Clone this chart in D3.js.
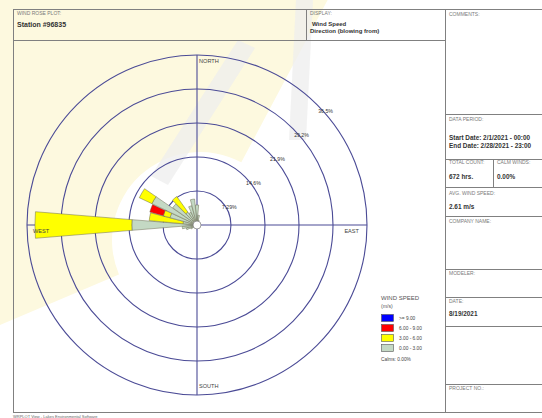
<!DOCTYPE html>
<html><head><meta charset="utf-8">
<script src="https://cdn.jsdelivr.net/npm/d3@7"></script>
<style>
html,body{margin:0;padding:0;background:#fff;}
svg{display:block;font-family:"Liberation Sans",Arial,sans-serif;}
</style></head>
<body>
<svg id="c" width="542" height="418"></svg>
<script>
// ---- data ----
const directions = [0,10,20,30,40,50,60,70,80,90,100,110,120,130,140,150,160,170,180,190,200,210,220,230,240,250,260,270,280,290,300,310,320,330,340,350];
const speed0to3 = [4.3,2.1,1.1,0,0,0,0,0,0,0,0,0,0,0,0,0,0,0,0,0,0,0,0,0.9,1.5,2.4,3.2,14.0,3.0,6.0,10.7,6.4,3.4,3.0,4.3,5.6];
const speed3to6 = [0,0,0,0,0,0,0,0,0,0,0,0,0,0,0,0,0,0,0,0,0,0,0,0,0,0,0,20.8,7.3,1.5,3.0,0,4.1,0,0,0];
const speed6to9 = [0,0,0,0,0,0,0,0,0,0,0,0,0,0,0,0,0,0,0,0,0,0,0,0,0,0,0,0,0,3.0,0,0,0,0,0,0];
const speed9up  = [0,0,0,0,0,0,0,0,0,0,0,0,0,0,0,0,0,0,0,0,0,0,0,0,0,0,0,0,0,0,0,0,0,0,0,0];
const ringValues = [7.29,14.6,21.9,29.2,36.5];
const ringLabels = ["7.29%","14.6%","21.9%","29.2%","36.5%"];
const legendLabels = [">= 9.00","6.00 - 9.00","3.00 - 6.00","0.00 - 3.00"];
const legendColors = ["#0000ff","#ff0000","#ffff00","#c4d9c4"];
const compass = [{t:"NORTH"},{t:"EAST"},{t:"SOUTH"},{t:"WEST"}];

const svg = d3.select("#c");
const cx = 197, cy = 225, R = 170;
const lineCol = "#4b4b96";
const frameCol = "#808080";

// ---- faint watermark background ----
const wm = svg.append("g");
wm.append("path")
  .attr("transform", `translate(200,240)`)
  .attr("d", d3.arc()({innerRadius: 88, outerRadius: 320, startAngle: -113*Math.PI/180, endAngle: 28*Math.PI/180}))
  .attr("fill", "#fdf9df");
wm.append("path").attr("d","M238,40 L255,48 L168,185 L151,176 Z").attr("fill","#eeeeee").attr("opacity",0.75);
wm.append("path").attr("d","M296,0 L313,0 L306,140 L289,140 Z").attr("fill","#eeeeee").attr("opacity",0.75);

// ---- frame ----
const fr = svg.append("g").attr("stroke", frameCol).attr("stroke-width", 1).attr("fill","none");
const hl = (x1,y1,x2,y2)=>fr.append("line").attr("x1",x1).attr("y1",y1).attr("x2",x2).attr("y2",y2);
hl(13,9.5,542,9.5);
hl(13.5,9,13.5,412);
hl(13,412.5,542,412.5);
hl(445.5,9,445.5,412);
hl(13,40.5,445,40.5);
hl(306.5,9,306.5,40);
[114,159,187,216,269,297,326,384].forEach(y=>hl(445,y+0.5,542,y+0.5));
hl(493.5,159,493.5,187);

// ---- text helpers ----
function small(x,y,t){svg.append("text").attr("x",x).attr("y",y).attr("font-size",5).attr("fill","#7a7a7a").text(t);}
function big(x,y,t,fs){svg.append("text").attr("x",x).attr("y",y).attr("font-size",fs||6.4).attr("font-weight","bold").attr("fill","#333").text(t);}

small(17,15,"WIND ROSE PLOT:");
big(17,27,"Station #96835",7);
small(310,15,"DISPLAY:");
big(312,25.5,"Wind Speed",6);
big(310,33,"Direction (blowing from)",6);
small(449,16,"COMMENTS:");
small(449,121,"DATA PERIOD:");
big(449,140,"Start Date: 2/1/2021 - 00:00");
big(449,148,"End Date: 2/28/2021 - 23:00");
small(449,164,"TOTAL COUNT:");
small(497,164,"CALM WINDS:");
big(449,179,"672 hrs.");
big(497,179,"0.00%");
small(449,195,"AVG. WIND SPEED:");
big(449,209,"2.61 m/s");
small(449,223,"COMPANY NAME:");
small(449,275,"MODELER:");
small(449,303,"DATE:");
big(449,316,"8/19/2021");
small(449,390,"PROJECT NO.:");
svg.append("text").attr("x",13).attr("y",417.5).attr("font-size",4).attr("fill","#666").text("WRPLOT View - Lakes Environmental Software");

// ---- scales ----
const r = d3.scaleLinear().domain([0, ringValues[ringValues.length-1]]).range([0, R]);
const rose = svg.append("g").attr("transform", `translate(${cx},${cy})`);

// rings
rose.selectAll("circle.ring").data(ringValues).join("circle")
  .attr("class","ring").attr("r", d=>r(d))
  .attr("fill","none").attr("stroke", lineCol).attr("stroke-width",1.1);
// axes
rose.append("line").attr("x1",0).attr("x2",0).attr("y1",-R).attr("y2",R).attr("stroke",lineCol).attr("stroke-width",1.1);
rose.append("line").attr("y1",0).attr("y2",0).attr("x1",-R).attr("x2",R).attr("stroke",lineCol).attr("stroke-width",1.1);

// petals
const series = [speed0to3, speed3to6, speed6to9, speed9up];
const seriesColors = ["#c4d9c4","#ffff00","#ff0000","#0000ff"];
const halfW = 4.7*Math.PI/180;
const arc = d3.arc();
const petals = [];
directions.forEach((dir,i)=>{
  let base = 0;
  series.forEach((s,k)=>{
    const v = s[i];
    if (v>0){
      petals.push({dir, inner: base, outer: base+v, color: seriesColors[k]});
    }
    base += v;
  });
});
rose.selectAll("path.petal").data(petals).join("path")
  .attr("class","petal")
  .attr("d", d=>{
    const a = d.dir*Math.PI/180;
    return arc({innerRadius: r(d.inner), outerRadius: r(d.outer), startAngle: a-halfW, endAngle: a+halfW});
  })
  .attr("fill", d=>d.color)
  .attr("stroke","#6b6b50").attr("stroke-width",0.5);

// calm circle
rose.append("circle").attr("r",4).attr("fill","#fff").attr("stroke","#888").attr("stroke-width",0.8);

// compass labels
const cfs = 5.6;
rose.append("text").attr("x",2).attr("y",-R+7.5).attr("font-size",cfs).attr("fill","#444").text(compass[0].t);
rose.append("text").attr("x",R-8).attr("y",8).attr("text-anchor","end").attr("font-size",cfs).attr("fill","#444").text(compass[1].t);
rose.append("text").attr("x",2).attr("y",R-7).attr("font-size",cfs).attr("fill","#444").text(compass[2].t);
rose.append("text").attr("x",-R+6).attr("y",8).attr("font-size",cfs).attr("fill","#444").text(compass[3].t);

// ring labels at 45 degrees
rose.selectAll("text.rl").data(ringValues).join("text")
  .attr("class","rl")
  .attr("x", d=>r(d)*Math.SQRT1_2+1)
  .attr("y", d=>-r(d)*Math.SQRT1_2+8)
  .attr("font-size",5.2).attr("fill","#333")
  .text((d,i)=>ringLabels[i]);

// legend
const lg = svg.append("g").attr("transform","translate(381,0)");
lg.append("text").attr("x",0).attr("y",300).attr("font-size",6).attr("fill","#555").text("WIND SPEED");
lg.append("text").attr("x",0).attr("y",308).attr("font-size",5.2).attr("fill","#555").text("(m/s)");
const ly = d3.scalePoint().domain(legendLabels).range([314,344]);
legendLabels.forEach((l,i)=>{
  lg.append("rect").attr("x",0.5).attr("y",ly(l)+0.5).attr("width",12).attr("height",7)
    .attr("fill",legendColors[i]).attr("stroke","#555").attr("stroke-width",0.6);
  lg.append("text").attr("x",18).attr("y",ly(l)+6).attr("font-size",4.8).attr("fill","#444").text(l);
});
lg.append("text").attr("x",0).attr("y",361).attr("font-size",4.8).attr("fill","#444").text("Calms: 0.00%");
</script>
</body></html>
